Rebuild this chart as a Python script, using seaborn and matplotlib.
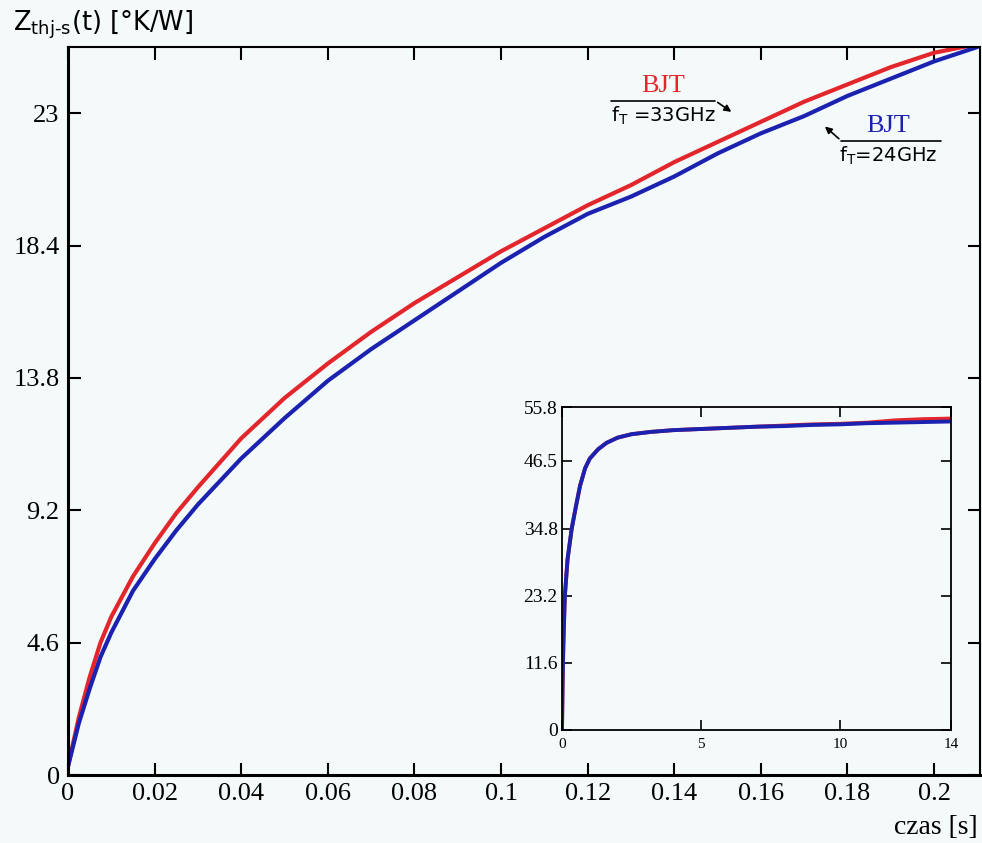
import numpy as np
import pandas as pd
import matplotlib
matplotlib.use("Agg")
import matplotlib.pyplot as plt
import seaborn as sns

# ---- data ----
t_main = [0, 0.0025, 0.005, 0.0075, 0.01, 0.015, 0.02, 0.025, 0.03, 0.04, 0.05,
          0.06, 0.07, 0.08, 0.09, 0.10, 0.11, 0.12, 0.13, 0.14, 0.15, 0.16,
          0.17, 0.18, 0.19, 0.20, 0.21]
z_33ghz = [0.3, 2.0, 3.4, 4.6, 5.5, 6.9, 8.05, 9.1, 10.0, 11.7, 13.1,
           14.3, 15.4, 16.4, 17.3, 18.2, 19.0, 19.8, 20.5, 21.3, 22.0, 22.7,
           23.4, 24.0, 24.6, 25.1, 25.4]
z_24ghz = [0.3, 1.8, 3.0, 4.1, 4.95, 6.4, 7.5, 8.5, 9.4, 11.0, 12.4,
           13.7, 14.8, 15.8, 16.8, 17.8, 18.7, 19.5, 20.1, 20.8, 21.6, 22.3,
           22.9, 23.6, 24.2, 24.8, 25.3]

t_inset = [0, 0.02, 0.05, 0.1, 0.2, 0.35, 0.5, 0.65, 0.83, 1.0, 1.3, 1.6, 2.0,
           2.5, 3.2, 4.0, 5.0, 6, 7, 8, 9, 10, 11, 12, 13, 14]
zi_33ghz = [0, 8, 15, 23, 29.5, 34.8, 38.6, 42.2, 45.2, 46.9, 48.5, 49.6, 50.5,
            51.1, 51.5, 51.8, 52.0, 52.2, 52.4, 52.6, 52.8, 52.9, 53.1, 53.5, 53.7, 53.8]
zi_24ghz = [0, 8, 15, 23, 29.5, 34.8, 38.6, 42.2, 45.2, 46.9, 48.5, 49.6, 50.5,
            51.1, 51.5, 51.8, 52.0, 52.2, 52.4, 52.5, 52.7, 52.8, 53.0, 53.1, 53.2, 53.3]

main_xticks = [0, 0.02, 0.04, 0.06, 0.08, 0.1, 0.12, 0.14, 0.16, 0.18, 0.2]
main_xlabels = ["0", "0.02", "0.04", "0.06", "0.08", "0.1", "0.12", "0.14", "0.16", "0.18", "0.2"]
main_yticks = [0, 4.6, 9.2, 13.8, 18.4, 23]
main_ylabels = ["0", "4.6", "9.2", "13.8", "18.4", "23"]
inset_xticks = [0, 5, 10, 14]
inset_xlabels = ["0", "5", "10", "14"]
inset_yticks = [0, 11.6, 23.2, 34.8, 46.5, 55.8]
inset_ylabels = ["0", "11.6", "23.2", "34.8", "46.5", "55.8"]
series = ["33GHz", "24GHz"]

RED = "#e3262c"
BLUE = "#1c22b0"
BG = "#f4fafa"

sns.set_style("ticks")
plt.rcParams["font.family"] = ["Liberation Serif", "DejaVu Serif"]
plt.rcParams["text.color"] = "black"
plt.rcParams["xtick.color"] = "black"
plt.rcParams["ytick.color"] = "black"
plt.rcParams["axes.edgecolor"] = "black"

df_main = pd.concat([
    pd.DataFrame({"t": t_main, "z": z_33ghz, "s": series[0]}),
    pd.DataFrame({"t": t_main, "z": z_24ghz, "s": series[1]}),
])
df_in = pd.concat([
    pd.DataFrame({"t": t_inset, "z": zi_33ghz, "s": series[0]}),
    pd.DataFrame({"t": t_inset, "z": zi_24ghz, "s": series[1]}),
])
pal = {series[0]: RED, series[1]: BLUE}

fig = plt.figure(figsize=(9.82, 8.43), dpi=100, facecolor=BG)
ax = fig.add_axes([68 / 982, 1 - 775 / 843, (980 - 68) / 982, (775 - 47) / 843])
ax.set_facecolor(BG)
sns.lineplot(data=df_main, x="t", y="z", hue="s", palette=pal, ax=ax,
             linewidth=3.0, legend=False, estimator=None, sort=False)
ax.set_xlim(0, 0.2106)
ax.set_ylim(0, 25.3)
ax.set_xticks(main_xticks)
ax.set_xticklabels(main_xlabels)
ax.set_yticks(main_yticks)
ax.set_yticklabels(main_ylabels)
ax.set_xlabel("")
ax.set_ylabel("")
ax.tick_params(direction="in", length=9, width=1.5, labelsize=19,
               top=True, right=True, colors="black", labelcolor="black", pad=6)
for side in ["left", "bottom"]:
    ax.spines[side].set_linewidth(2.2)
for side in ["top", "right"]:
    ax.spines[side].set_linewidth(1.5)
    ax.spines[side].set_visible(True)

fig.text(13 / 982, 1 - 25 / 843, r"$\mathregular{Z_{thj\text{-}s}}$(t) [°K/W]",
         family=["DejaVu Sans"], fontsize=18.5, ha="left", va="center", color="black")
fig.text(978 / 982, 1 - 828 / 843, "czas [s]", fontsize=20, ha="right", va="center",
         color="black")

# annotations
ax.text(0.1375, 23.95, "BJT", color=RED, fontsize=19, ha="center", va="center")
ax.text(0.1375, 22.9, r"f$_\mathregular{T}$ =33GHz", family=["DejaVu Sans"],
        fontsize=14, ha="center", va="center", color="black")
ax.plot([0.1255, 0.1495], [23.43, 23.43], color="black", lw=1.2)
ax.annotate("", xy=(0.1537, 22.99), xytext=(0.1495, 23.43),
            arrowprops=dict(arrowstyle="-|>", color="black", lw=1.2, mutation_scale=10))
ax.text(0.1893, 22.55, "BJT", color=BLUE, fontsize=19, ha="center", va="center")
ax.text(0.1893, 21.5, r"f$_\mathregular{T}$=24GHz", family=["DejaVu Sans"],
        fontsize=14, ha="center", va="center", color="black")
ax.plot([0.2015, 0.1785], [22.05, 22.05], color="black", lw=1.2)
ax.annotate("", xy=(0.1743, 22.6), xytext=(0.1785, 22.05),
            arrowprops=dict(arrowstyle="-|>", color="black", lw=1.2, mutation_scale=10))

# inset
axi = fig.add_axes([562 / 982, 1 - 730 / 843, (951 - 562) / 982, (730 - 407) / 843])
axi.set_facecolor(BG)
sns.lineplot(data=df_in, x="t", y="z", hue="s", palette=pal, ax=axi,
             linewidth=2.8, legend=False, estimator=None, sort=False)
axi.set_xlim(0, 14)
axi.set_ylim(0, 55.8)
axi.set_xticks(inset_xticks)
axi.set_xticklabels(inset_xlabels)
axi.set_yticks(inset_yticks)
axi.set_yticklabels(inset_ylabels)
axi.set_xlabel("")
axi.set_ylabel("")
axi.tick_params(axis="y", direction="in", length=7, width=1.2, labelsize=14,
                left=True, right=True, pad=3, colors="black")
axi.tick_params(axis="x", direction="in", length=7, width=1.2, labelsize=11,
                bottom=True, top=True, pad=6, colors="black")
for side in axi.spines:
    axi.spines[side].set_visible(True)
    axi.spines[side].set_linewidth(1.3)

fig.savefig("out.png", dpi=100, facecolor=BG)
